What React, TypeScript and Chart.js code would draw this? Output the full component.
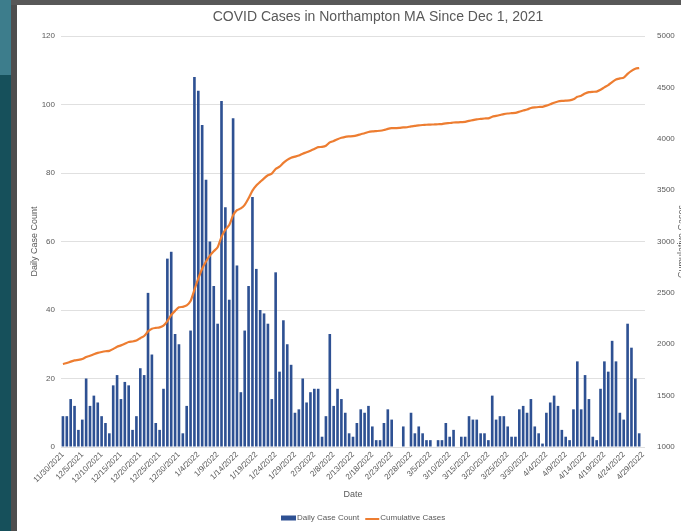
import React, { useEffect, useRef } from "react";
import { Chart, registerables } from "chart.js";

Chart.register(...registerables);

const FONT = '"Liberation Sans", Arial, Helvetica, sans-serif';
const TITLE = "COVID Cases in Northampton MA Since Dec 1, 2021";
const BAR_COLOR = "#2e5193";
const LINE_COLOR = "#ed7d31";
const TEXT_COLOR = "#595959";

const dates: string[] = [
  "11/30/2021",
  "12/1/2021", "12/2/2021", "12/3/2021", "12/4/2021", "12/5/2021", "12/6/2021", "12/7/2021", "12/8/2021", "12/9/2021", "12/10/2021",
  "12/11/2021", "12/12/2021", "12/13/2021", "12/14/2021", "12/15/2021", "12/16/2021", "12/17/2021", "12/18/2021", "12/19/2021", "12/20/2021",
  "12/21/2021", "12/22/2021", "12/23/2021", "12/24/2021", "12/25/2021", "12/26/2021", "12/27/2021", "12/28/2021", "12/29/2021", "12/30/2021", "12/31/2021",
  "1/1/2022", "1/2/2022", "1/3/2022", "1/4/2022", "1/5/2022", "1/6/2022", "1/7/2022", "1/8/2022", "1/9/2022", "1/10/2022",
  "1/11/2022", "1/12/2022", "1/13/2022", "1/14/2022", "1/15/2022", "1/16/2022", "1/17/2022", "1/18/2022", "1/19/2022", "1/20/2022",
  "1/21/2022", "1/22/2022", "1/23/2022", "1/24/2022", "1/25/2022", "1/26/2022", "1/27/2022", "1/28/2022", "1/29/2022", "1/30/2022", "1/31/2022",
  "2/1/2022", "2/2/2022", "2/3/2022", "2/4/2022", "2/5/2022", "2/6/2022", "2/7/2022", "2/8/2022", "2/9/2022", "2/10/2022",
  "2/11/2022", "2/12/2022", "2/13/2022", "2/14/2022", "2/15/2022", "2/16/2022", "2/17/2022", "2/18/2022", "2/19/2022", "2/20/2022",
  "2/21/2022", "2/22/2022", "2/23/2022", "2/24/2022", "2/25/2022", "2/26/2022", "2/27/2022", "2/28/2022",
  "3/1/2022", "3/2/2022", "3/3/2022", "3/4/2022", "3/5/2022", "3/6/2022", "3/7/2022", "3/8/2022", "3/9/2022", "3/10/2022",
  "3/11/2022", "3/12/2022", "3/13/2022", "3/14/2022", "3/15/2022", "3/16/2022", "3/17/2022", "3/18/2022", "3/19/2022", "3/20/2022",
  "3/21/2022", "3/22/2022", "3/23/2022", "3/24/2022", "3/25/2022", "3/26/2022", "3/27/2022", "3/28/2022", "3/29/2022", "3/30/2022", "3/31/2022",
  "4/1/2022", "4/2/2022", "4/3/2022", "4/4/2022", "4/5/2022", "4/6/2022", "4/7/2022", "4/8/2022", "4/9/2022", "4/10/2022",
  "4/11/2022", "4/12/2022", "4/13/2022", "4/14/2022", "4/15/2022", "4/16/2022", "4/17/2022", "4/18/2022", "4/19/2022", "4/20/2022",
  "4/21/2022", "4/22/2022", "4/23/2022", "4/24/2022", "4/25/2022", "4/26/2022", "4/27/2022", "4/28/2022", "4/29/2022",
];

const tickLabels: string[] = [
  "11/30/2021", "12/5/2021", "12/10/2021", "12/15/2021", "12/20/2021", "12/25/2021", "12/30/2021",
  "1/4/2022", "1/9/2022", "1/14/2022", "1/19/2022", "1/24/2022", "1/29/2022",
  "2/3/2022", "2/8/2022", "2/13/2022", "2/18/2022", "2/23/2022", "2/28/2022",
  "3/5/2022", "3/10/2022", "3/15/2022", "3/20/2022", "3/25/2022", "3/30/2022",
  "4/4/2022", "4/9/2022", "4/14/2022", "4/19/2022", "4/24/2022", "4/29/2022",
];

const dailyCases: (number | null)[] = [
  9, 9, 14, 12, 5, 8, 20, 12, 15, 13,
  9, 7, 4, 18, 21, 14, 19, 18, 5, 9,
  23, 21, 45, 27, 7, 5, 17, 55, 57, 33,
  30, 4, 12, 34, 108, 104, 94, 78, 60, 47,
  36, 101, 70, 43, 96, 53, 16, 34, 47, 73,
  52, 40, 39, 36, 14, 51, 22, 37, 30, 24,
  10, 11, 20, 13, 16, 17, 17, 3, 9, 33,
  12, 17, 14, 10, 4, 3, 7, 11, 10, 12,
  6, 2, 2, 7, 11, 8, 0, 0, 6, 0,
  10, 4, 6, 4, 2, 2, 0, 2, 2, 7,
  3, 5, 0, 3, 3, 9, 8, 8, 4, 4,
  2, 15, 8, 9, 9, 6, 3, 3, 11, 12,
  10, 14, 6, 4, 1, 10, 13, 15, 12, 5,
  3, 2, 11, 25, 11, 21, 14, 3, 2, 17,
  25, 22, 31, 25, 10, 8, 36, 29, 20, 4,
  null,
];

const cumulativeCases: (number | null)[] = [
  1808, 1817, 1831, 1843, 1848, 1856, 1876, 1888, 1903, 1916,
  1925, 1932, 1936, 1954, 1975, 1989, 2005, 2022, 2027, 2036,
  2059, 2080, 2125, 2152, 2159, 2164, 2181, 2225, 2285, 2325,
  2360, 2364, 2378, 2420, 2530, 2640, 2735, 2805, 2862, 2905,
  2945, 3045, 3115, 3160, 3255, 3305, 3322, 3356, 3420, 3495,
  3545, 3580, 3615, 3645, 3660, 3706, 3728, 3765, 3795, 3815,
  3826, 3837, 3855, 3868, 3884, 3901, 3918, 3921, 3932, 3965,
  3978, 3995, 4009, 4019, 4023, 4026, 4033, 4044, 4054, 4066,
  4072, 4075, 4078, 4085, 4096, 4103, 4104, 4105, 4111, 4112,
  4121, 4125, 4131, 4134, 4136, 4138, 4139, 4141, 4143, 4150,
  4153, 4158, 4159, 4162, 4165, 4174, 4182, 4189, 4193, 4197,
  4199, 4214, 4222, 4231, 4240, 4246, 4249, 4252, 4263, 4275,
  4285, 4299, 4305, 4309, 4311, 4322, 4336, 4351, 4363, 4368,
  4371, 4373, 4384, 4408, 4419, 4440, 4454, 4457, 4459, 4476,
  4500, 4522, 4552, 4577, 4587, 4595, 4632, 4661, 4682, 4688,
  null,
];

const decorPlugin = {
  id: "decor",
  afterDraw(chart: any) {
    const { ctx, chartArea } = chart;
    ctx.save();
    ctx.fillStyle = TEXT_COLOR;
    ctx.textBaseline = "middle";
    // chart title
    ctx.font = `14px ${FONT}`;
    ctx.textAlign = "center";
    ctx.fillText(TITLE, 361, 12);
    // secondary axis title (cut off at the right edge)
    ctx.save();
    ctx.translate(665, (chartArea.top + chartArea.bottom) / 2);
    ctx.rotate(-Math.PI / 2);
    ctx.font = `9px ${FONT}`;
    ctx.fillText("Cumulative Cases", 0, 0);
    ctx.restore();
    // legend
    ctx.font = `8px ${FONT}`;
    ctx.textAlign = "left";
    const y = 513;
    let x = 264;
    ctx.fillStyle = BAR_COLOR;
    ctx.fillRect(x, y - 2.5, 15, 5);
    x += 16;
    ctx.fillStyle = TEXT_COLOR;
    ctx.fillText("Daily Case Count", x, y);
    x += ctx.measureText("Daily Case Count").width + 6;
    ctx.strokeStyle = LINE_COLOR;
    ctx.lineWidth = 2;
    ctx.beginPath();
    ctx.moveTo(x, y + 1);
    ctx.lineTo(x + 14, y + 1);
    ctx.stroke();
    x += 15;
    ctx.fillText("Cumulative Cases", x, y);
    ctx.restore();
  },
};

export default function App() {
  const ref = useRef<HTMLCanvasElement>(null);

  useEffect(() => {
    if (!ref.current) return;
    const tickSet = new Set(tickLabels);
    const chart = new Chart(ref.current, {
      type: "bar",
      data: {
        labels: dates,
        datasets: [
          {
            type: "line",
            label: "Cumulative Cases",
            data: cumulativeCases,
            yAxisID: "y1",
            borderColor: LINE_COLOR,
            backgroundColor: LINE_COLOR,
            borderWidth: 2.2,
            pointRadius: 0,
            tension: 0.2,
            order: 0,
          } as any,
          {
            type: "bar",
            label: "Daily Case Count",
            data: dailyCases,
            yAxisID: "y",
            backgroundColor: BAR_COLOR,
            barPercentage: 0.68,
            categoryPercentage: 1,
            order: 1,
          } as any,
        ],
      },
      options: {
        responsive: false,
        animation: false,
        devicePixelRatio: 1,
        layout: { padding: { top: 31, bottom: 26.6, left: 0, right: 0 } },
        plugins: {
          legend: { display: false },
          title: { display: false },
          tooltip: { enabled: false },
        },
        font: { family: FONT },
        scales: {
          x: {
            offset: true,
            grid: { display: false, drawTicks: false },
            border: { display: false },
            ticks: {
              autoSkip: false,
              maxRotation: 45,
              minRotation: 45,
              padding: 3,
              color: TEXT_COLOR,
              font: { size: 8, family: FONT },
              callback: (_v: any, i: number) => (tickSet.has(dates[i]) ? dates[i] : ""),
            },
            title: {
              display: true,
              text: "Date",
              color: TEXT_COLOR,
              font: { size: 9, family: FONT },
              padding: { top: 0, bottom: 4 },
            },
            afterFit: (s: any) => {
              s.height = 57.4;
            },
          },
          y: {
            position: "left",
            min: 0,
            max: 120,
            ticks: {
              stepSize: 20,
              padding: 6,
              color: TEXT_COLOR,
              font: { size: 8, family: FONT },
              callback: (v: any) => String(v),
            },
            grid: { color: "#e0e0e0", drawTicks: false },
            border: { display: false },
            title: {
              display: true,
              text: "Daily Case Count",
              color: TEXT_COLOR,
              font: { size: 9, family: FONT },
              padding: { top: 12.6, bottom: 0 },
            },
            afterFit: (s: any) => {
              s.width = 44;
            },
          },
          y1: {
            position: "right",
            min: 1000,
            max: 5000,
            ticks: {
              stepSize: 500,
              padding: 12,
              color: TEXT_COLOR,
              font: { size: 8, family: FONT },
              callback: (v: any) => String(v),
            },
            grid: { display: false, drawTicks: false },
            border: { display: false },
            afterFit: (s: any) => {
              s.width = 36;
            },
          },
        },
      } as any,
      plugins: [decorPlugin],
    });
    return () => chart.destroy();
  }, []);

  return (
    <div
      style={{
        position: "fixed",
        left: 0,
        top: 0,
        width: 681,
        height: 531,
        overflow: "hidden",
        background: "#ffffff",
      }}
    >
      <div style={{ position: "absolute", left: 0, top: 0, width: 11, height: 75, background: "#3d7d8c" }} />
      <div style={{ position: "absolute", left: 0, top: 75, width: 11, height: 456, background: "#16505b" }} />
      <div style={{ position: "absolute", left: 11, top: 0, width: 6, height: 531, background: "#4e4e4e" }} />
      <div style={{ position: "absolute", left: 11, top: 0, width: 670, height: 5, background: "#585858" }} />
      <canvas
        ref={ref}
        width={664}
        height={526}
        style={{ position: "absolute", left: 17, top: 5, width: 664, height: 526 }}
      />
    </div>
  );
}
